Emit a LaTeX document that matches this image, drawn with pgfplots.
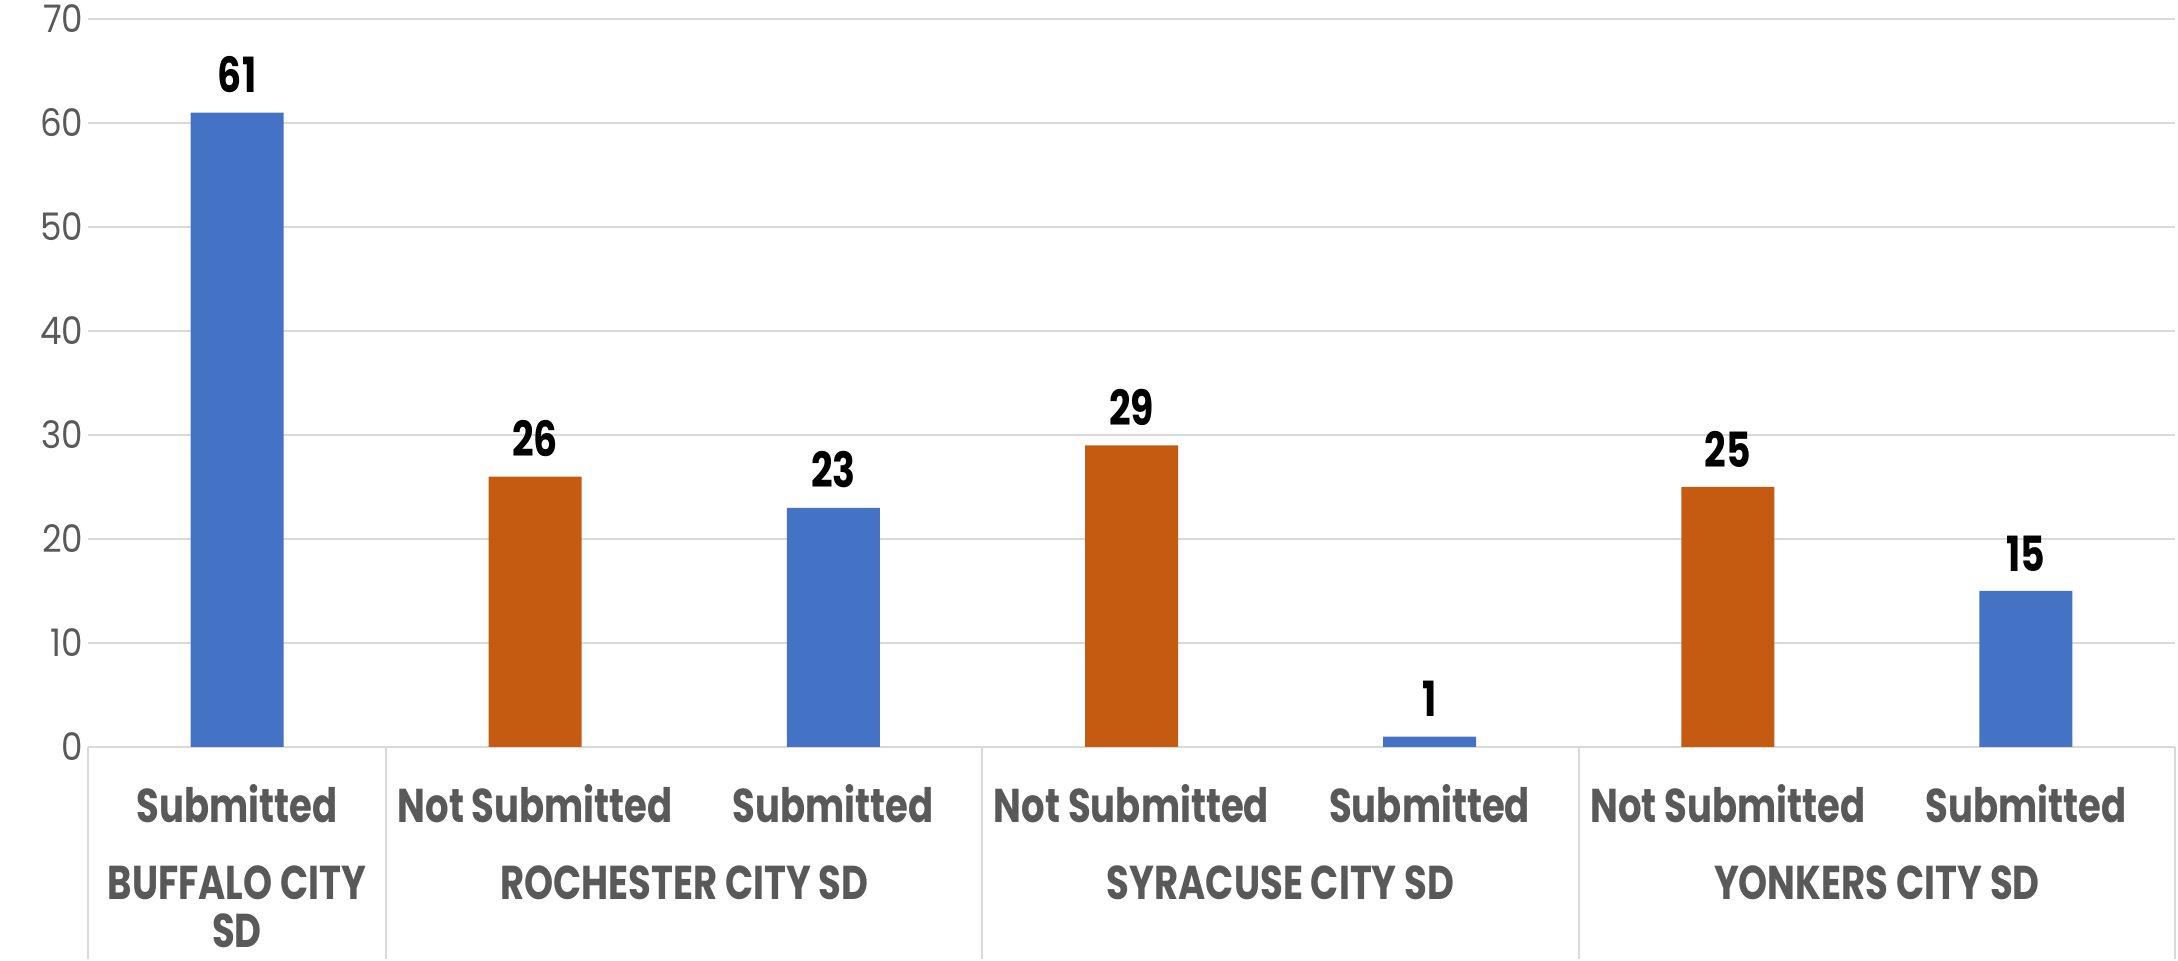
\documentclass[border=0pt]{standalone}
\usepackage{fontspec}
\setmainfont{Poppins}
\newfontfamily\labfont{Poppins}[FakeStretch=0.78]
\newfontfamily\numfont{Poppins}[FakeStretch=0.9]
\usepackage{pgfplots}
\pgfplotsset{compat=1.18}
\definecolor{subblue}{HTML}{4472C4}
\definecolor{notorange}{HTML}{C55A11}
\definecolor{txtgray}{HTML}{595959}
\definecolor{gridgray}{HTML}{D9D9D9}

\begin{document}
\begin{tikzpicture}
\begin{axis}[
    scale only axis,
    width=208.7mm,
    height=72.8mm,
    ybar,
    bar width=9.3mm,
    bar shift=0pt,
    xmin=-0.5, xmax=6.5,
    ymin=0, ymax=70,
    ytick={0,10,...,70},
    xtick={0,...,6},
    xtick pos=bottom,
    ytick pos=left,
    xticklabels={Submitted, Not Submitted, Submitted, Not Submitted, Submitted, Not Submitted, Submitted},
    axis line style={draw=none},
    ymajorgrids,
    grid style={gridgray, line width=0.6pt},
    major tick length=0pt,
    tick style={gridgray, line width=0.6pt},
    extra x ticks={-0.5,0.5,2.5,4.5,6.5},
    extra x tick labels={},
    extra x tick style={major tick length=21.2mm, tick align=outside, grid=none, xticklabel style={overlay}},
    /pgf/number format/assume math mode=true,
    yticklabel style={font=\numfont\fontsize{10.8}{13}\selectfont, text=txtgray, anchor=east, inner sep=0pt, xshift=-0.4mm},
    xticklabel style={font=\labfont\bfseries\fontsize{13.5}{16}\selectfont, text=txtgray, anchor=north, inner sep=0pt, yshift=-3.7mm},
    nodes near coords,
    every node near coord/.append style={font=\labfont\bfseries\fontsize{13.8}{16}\selectfont, black, anchor=south, inner sep=0pt, yshift=1.9mm},
    clip=false,
]
\addplot[fill=subblue, draw=none] coordinates {(0,61) (2,23) (4,1) (6,15)};
\addplot[fill=notorange, draw=none] coordinates {(1,26) (3,29) (5,25)};
\begin{scope}[every node/.style={font=\labfont\bfseries\fontsize{13.5}{13.6}\selectfont, text=txtgray, inner sep=0pt, anchor=north, align=center}]
\node at (axis cs:0,0) [yshift=-11.8mm] {BUFFALO CITY\\SD};
\node at (axis cs:1.5,0) [yshift=-11.8mm] {ROCHESTER CITY SD};
\node at (axis cs:3.5,0) [yshift=-11.8mm] {SYRACUSE CITY SD};
\node at (axis cs:5.5,0) [yshift=-11.8mm] {YONKERS CITY SD};
\end{scope}
\end{axis}
\path ([shift={(-8.8mm,-21.2mm)}]current axis.south west) rectangle ([shift={(0.3mm,1.9mm)}]current axis.north east);
\end{tikzpicture}
\end{document}
